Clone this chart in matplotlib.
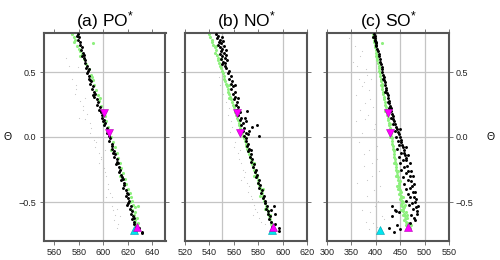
import matplotlib
matplotlib.use("Agg")
import matplotlib.pyplot as plt
import numpy as np

plt.rcParams['font.family'] = ['Liberation Sans', 'DejaVu Sans']
plt.rcParams['mathtext.fontset'] = 'custom'
plt.rcParams['mathtext.rm'] = 'Liberation Sans'
plt.rcParams['mathtext.default'] = 'regular'

titles = ["(a) PO$^{*}$", "(b) NO$^{*}$", "(c) SO$^{*}$"]
ylabel = "Θ"

# ---- data: (theta, value) pairs ----
a_grey = [(0.61,569.8),(0.55,571.5),(0.50,575.2),(0.45,574.0),(0.40,577.5),(0.37,578.0),(0.33,576.5),(0.28,581.0),
          (0.24,583.0),(0.21,583.4),(0.18,586.5),(0.14,585.0),(0.11,588.8),(0.07,590.0),(0.03,589.0),(-0.02,592.5),
          (-0.04,594.3),(-0.08,593.0),(-0.12,596.5),(-0.15,598.0),(-0.17,598.4),(-0.20,596.8),(-0.24,600.5),(-0.27,601.0),
          (-0.30,602.4),(-0.33,600.0),(-0.36,604.0),(-0.40,603.5),(-0.43,605.2),(-0.46,606.8),(-0.50,604.5),(-0.53,607.5),
          (-0.56,607.9),(-0.58,599.7),(-0.60,610.0),(-0.61,613.3),(-0.64,608.6),(-0.67,612.0),(-0.70,611.0),(-0.55,611.5),
          (-0.46,602.0),(0.30,585.0),(0.00,595.5),(-0.10,601.0),(0.15,580.0),(0.54,579.3)]
a_green = [(0.79,574.5),(0.77,575.8),(0.75,577.0),(0.73,576.2),(0.72,591.6),(0.70,578.5),(0.68,579.9),(0.66,580.6),
           (0.64,582.6),(0.60,584.5),(0.56,586.0),(0.52,587.9),(0.48,589.8),(0.44,591.4),(0.40,592.5),(0.36,593.7),
           (0.32,595.3),(0.28,596.8),(0.24,598.2),(0.20,599.0),(0.16,601.1),(0.12,602.4),(0.08,603.5),(0.04,604.9),
           (0.00,606.6),(-0.04,607.6),(-0.08,609.2),(-0.12,610.9),(-0.16,612.1),(-0.20,613.6),(-0.24,614.9),(-0.28,616.3),
           (-0.32,617.7),(-0.36,618.9),(-0.40,620.2),(-0.43,621.6),(-0.46,622.8),(-0.49,623.2),(-0.52,624.6),(-0.54,625.9),
           (-0.56,623.9),(-0.58,626.3),(-0.60,625.2),(-0.62,627.4),(-0.64,626.1),(-0.66,628.2),(-0.68,627.0),(-0.70,629.5),
           (-0.72,626.8),(-0.53,628.3),(0.46,591.0),(0.30,597.4),(-0.10,606.3),(-0.30,613.8),(-0.50,621.9),(0.10,600.8),
           (0.62,581.2),(-0.66,625.6)]
a_black = [(0.79,579.0),(0.77,580.2),(0.75,579.4),(0.73,581.3),(0.71,580.8),(0.69,582.5),(0.67,581.6),(0.65,583.4),
           (0.63,584.5),(0.61,583.8),(0.59,585.2),(0.57,584.9),(0.55,586.6),(0.53,585.7),(0.51,587.3),(0.49,586.8),
           (0.47,588.6),(0.45,588.0),(0.43,590.1),(0.41,589.4),(0.39,591.2),(0.37,590.6),(0.35,592.5),(0.33,593.4),
           (0.31,592.7),(0.29,594.8),(0.27,595.6),(0.25,594.9),(0.23,597.0),(0.21,596.2),(0.19,598.4),(0.17,599.3),
           (0.15,598.7),(0.13,600.6),(0.11,601.4),(0.09,600.9),(0.07,602.7),(0.05,603.5),(0.03,602.9),(0.01,604.8),
           (-0.01,605.6),(-0.03,604.9),(-0.05,606.8),(-0.07,607.5),(-0.09,606.9),(-0.11,608.9),(-0.13,609.6),(-0.15,608.8),
           (-0.17,610.9),(-0.19,611.6),(-0.21,610.8),(-0.23,612.9),(-0.25,613.5),(-0.27,612.7),(-0.29,614.6),(-0.31,615.4),
           (-0.33,614.8),(-0.35,616.7),(-0.37,617.3),(-0.39,616.5),(-0.41,618.6),(-0.43,619.2),(-0.45,618.4),(-0.47,620.5),
           (-0.49,621.3),(-0.51,620.6),(-0.53,622.4),(-0.55,621.7),(-0.57,623.5),(-0.59,622.8),(-0.61,624.3),(-0.63,623.9),
           (-0.65,625.4),(-0.67,624.8),(-0.69,626.6),(-0.71,627.9),(-0.73,631.5),(0.78,578.2),(0.52,587.9),(0.32,591.6),
           (0.12,599.5),(-0.12,607.6),(-0.32,616.1),(-0.52,619.8),(-0.70,629.0),(-0.74,632.0),(0.20,597.8),(-0.20,612.2),
           (0.44,589.2),(-0.44,620.0),(0.62,582.9),(-0.62,625.2)]

b_grey = [(0.50,546.5),(0.46,548.0),(0.40,549.0),(0.33,551.2),(0.27,553.5),(0.22,555.9),(0.17,555.0),(0.12,557.6),
          (0.08,558.6),(0.04,557.0),(0.00,560.5),(-0.04,561.3),(-0.08,560.0),(-0.12,563.2),(-0.17,564.0),(-0.20,566.0),
          (-0.25,567.5),(-0.27,569.5),(-0.31,568.0),(-0.35,571.0),(-0.38,572.2),(-0.42,571.5),(-0.45,574.0),(-0.48,574.9),
          (-0.52,576.5),(-0.55,577.7),(-0.58,579.0),(-0.62,580.4),(-0.65,582.0),(-0.67,585.8),(-0.60,576.0),(-0.50,572.5),
          (0.62,545.0),(0.30,550.0),(-0.10,565.0),(-0.33,565.5)]
b_green = [(0.79,540.0),(0.77,540.8),(0.75,541.9),(0.73,542.5),(0.71,543.3),(0.69,544.2),(0.67,545.0),(0.65,544.6),
           (0.63,546.0),(0.61,546.8),(0.59,547.3),(0.57,547.9),(0.55,548.9),(0.53,549.6),(0.51,550.2),(0.49,550.9),
           (0.47,551.6),(0.45,552.1),(0.43,553.0),(0.41,553.5),(0.39,554.2),(0.37,555.0),(0.35,555.5),(0.33,556.4),
           (0.31,557.0),(0.29,557.6),(0.27,558.5),(0.25,559.1),(0.23,559.8),(0.21,560.6),(0.19,561.1),(0.17,561.9),
           (0.15,562.6),(0.13,563.3),(0.11,564.0),(0.09,564.6),(0.07,565.4),(0.05,566.1),(0.03,566.8),(0.01,567.4),
           (-0.01,568.3),(-0.03,568.8),(-0.05,569.6),(-0.07,570.4),(-0.09,571.0),(-0.11,571.7),(-0.13,572.5),(-0.15,573.1),
           (-0.17,573.9),(-0.19,574.6),(-0.21,575.2),(-0.23,576.0),(-0.25,576.7),(-0.27,577.3),(-0.29,578.1),(-0.31,578.7),
           (-0.33,579.5),(-0.35,580.1),(-0.37,580.8),(-0.39,581.5),(-0.41,582.2),(-0.43,582.8),(-0.45,583.6),(-0.47,584.2),
           (-0.49,585.0),(-0.51,585.6),(-0.53,586.4),(-0.55,587.0),(-0.57,587.8),(-0.59,588.3),(-0.61,589.1),(-0.63,589.6),
           (-0.65,590.3),(-0.67,590.9),(-0.69,591.6),(0.60,549.5),(0.40,555.8),(0.20,562.5),(0.00,569.5),(-0.20,576.8),
           (-0.40,583.8),(-0.60,590.0),(0.70,545.5),(-0.45,581.5),(-0.55,585.2),(0.30,555.9),(-0.30,576.9)]
b_black = [(0.79,545.2),(0.78,547.0),(0.77,550.1),(0.76,546.3),(0.75,548.4),(0.74,551.5),(0.73,547.5),(0.72,549.6),
           (0.71,546.9),(0.70,552.3),(0.69,548.8),(0.68,550.7),(0.67,553.2),(0.66,549.5),(0.65,551.8),(0.64,548.3),
           (0.63,553.9),(0.62,550.6),(0.61,552.4),(0.60,549.9),(0.59,554.8),(0.58,551.3),(0.57,553.0),(0.56,550.2),
           (0.55,552.7),(0.53,554.0),(0.51,556.2),(0.49,555.1),(0.47,557.9),(0.45,556.4),(0.43,558.6),(0.41,557.3),
           (0.39,559.2),(0.37,558.0),(0.35,560.6),(0.33,559.4),(0.31,561.3),(0.29,560.2),(0.27,562.5),(0.25,561.6),
           (0.23,563.6),(0.21,562.8),(0.19,564.8),(0.17,563.7),(0.15,566.2),(0.13,565.0),(0.11,567.3),(0.09,566.1),
           (0.07,568.4),(0.05,567.6),(0.03,569.9),(0.01,568.7),(-0.01,570.4),(-0.03,569.6),(-0.05,571.5),(-0.07,570.8),
           (-0.09,572.6),(-0.11,571.9),(-0.13,573.8),(-0.15,573.0),(-0.17,575.1),(-0.19,574.3),(-0.21,576.4),(-0.23,575.6),
           (-0.25,577.8),(-0.27,577.0),(-0.29,579.2),(-0.31,578.3),(-0.33,580.5),(-0.35,579.7),(-0.37,581.8),(-0.39,581.0),
           (-0.41,583.2),(-0.43,582.4),(-0.45,584.6),(-0.47,583.8),(-0.49,585.9),(-0.51,585.2),(-0.53,587.1),(-0.55,586.5),
           (-0.57,588.2),(-0.59,587.8),(-0.61,589.3),(-0.63,589.0),(-0.65,590.2),(-0.67,593.8),(-0.69,591.5),(-0.72,596.8),
           (0.20,570.5),(0.15,568.9),(0.08,575.0),(0.09,579.0),(0.01,580.4),(0.05,572.5),(0.12,570.2),(-0.53,592.6),
           (-0.59,594.0),(-0.56,590.5),(0.30,563.5),(0.40,561.0),(-0.10,574.5),(-0.70,597.0),(0.02,571.8)]

c_grey = [(0.76,344.5),(0.74,349.0),(0.70,358.0),(0.66,372.0),(0.62,368.0),(0.58,352.5),(0.55,361.6),(0.52,380.0),
          (0.48,382.0),(0.45,366.0),(0.42,376.0),(0.39,371.8),(0.36,386.0),(0.32,360.0),(0.29,389.0),(0.26,378.5),
          (0.23,395.0),(0.21,368.4),(0.17,384.0),(0.14,378.7),(0.10,398.0),(0.06,395.7),(0.03,372.0),(0.00,388.5),
          (-0.04,365.0),(-0.07,403.0),(-0.10,385.5),(-0.13,376.0),(-0.17,402.6),(-0.20,391.5),(-0.22,375.3),(-0.26,407.0),
          (-0.30,392.3),(-0.33,381.0),(-0.38,409.4),(-0.41,396.0),(-0.45,382.0),(-0.49,404.0),(-0.53,399.0),(-0.56,371.0),
          (-0.58,389.0),(-0.61,412.0),(-0.63,416.2),(-0.66,395.0),(-0.69,402.6),(-0.71,386.0),(0.45,390.0),(0.12,360.0),
          (-0.35,362.0),(-0.65,380.0)]
c_green = [(0.79,393.7),(0.77,394.6),(0.75,396.5),(0.73,396.0),(0.71,397.8),(0.69,398.4),(0.67,399.4),(0.65,400.0),
           (0.63,401.5),(0.61,401.9),(0.59,403.2),(0.57,403.9),(0.55,405.8),(0.53,406.1),(0.51,407.3),(0.49,407.9),
           (0.47,409.2),(0.45,409.8),(0.43,410.6),(0.41,412.0),(0.39,412.7),(0.37,413.5),(0.35,414.6),(0.33,415.3),
           (0.31,416.4),(0.29,417.4),(0.27,418.2),(0.25,419.3),(0.23,420.2),(0.21,421.4),(0.19,422.5),(0.17,423.3),
           (0.15,424.6),(0.13,425.2),(0.11,426.5),(0.09,427.4),(0.07,428.3),(0.05,429.2),(0.03,430.5),(0.01,431.3),
           (-0.01,432.4),(-0.03,433.3),(-0.05,434.0),(-0.07,434.9),(-0.09,435.5),(-0.11,436.6),(-0.13,437.5),(-0.15,437.9),
           (-0.17,439.2),(-0.19,439.8),(-0.21,440.5),(-0.23,441.6),(-0.25,442.3),(-0.27,443.4),(-0.29,443.9),(-0.31,445.0),
           (-0.33,445.6),(-0.35,446.8),(-0.37,447.4),(-0.39,448.5),(-0.41,449.2),(-0.43,450.0),(-0.45,451.3),(-0.47,451.8),
           (-0.49,452.9),(-0.51,453.6),(-0.53,454.7),(-0.55,455.5),(-0.57,456.4),(-0.59,457.8),(-0.61,459.0),(-0.63,460.5),
           (-0.65,462.0),(-0.67,464.2),(-0.69,466.5),(-0.40,445.0),(-0.44,447.5),(-0.48,449.0),(-0.52,451.0),(-0.56,452.5),
           (-0.60,455.0),(-0.64,458.0),(-0.68,461.5),(-0.42,452.5),(-0.46,454.8),(-0.50,456.5),(-0.54,458.5),(-0.58,461.0),
           (-0.62,463.5),(-0.66,466.5),(-0.70,470.5),(-0.68,472.0),(-0.60,464.0),(-0.52,460.0),(-0.38,444.0),(-0.34,449.0),
           (-0.30,442.0),(-0.26,445.5),(0.72,412.8),(0.62,399.5),(0.40,409.8),(0.20,419.5),(0.00,429.5),(-0.20,437.5),
           (-0.10,438.0),(0.10,428.6)]
c_black = [(0.79,396.0),(0.78,397.5),(0.77,395.2),(0.76,398.3),(0.75,399.0),(0.74,397.8),(0.73,400.2),(0.72,399.4),
           (0.71,401.0),(0.70,400.5),(0.68,402.3),(0.66,403.8),(0.64,405.9),(0.62,406.8),(0.60,408.5),(0.58,409.6),
           (0.56,410.4),(0.54,411.9),(0.52,412.8),(0.50,413.6),(0.48,415.2),(0.46,416.0),(0.44,417.5),(0.42,418.8),
           (0.40,419.4),(0.38,420.9),(0.36,421.6),(0.34,423.2),(0.32,424.0),(0.30,425.6),(0.28,426.5),(0.26,428.0),
           (0.24,429.4),(0.22,430.5),(0.20,432.1),(0.18,433.0),(0.16,434.9),(0.14,436.2),(0.12,437.7),(0.10,439.5),
           (0.08,441.2),(0.06,443.6),(0.04,445.0),(0.02,446.7),(0.00,448.9),(-0.02,451.0),(-0.04,452.6),(-0.06,454.5),
           (-0.08,455.9),(-0.10,457.1),(-0.12,458.6),(-0.14,459.4),(-0.16,461.0),(-0.18,462.3),(-0.22,464.1),(-0.26,466.5),
           (-0.30,470.0),(-0.34,472.5),(-0.38,474.1),(-0.42,475.8),(-0.46,477.4),(-0.50,479.6),(-0.54,482.7),(-0.57,484.9),
           (-0.59,483.5),(0.45,414.8),(0.35,419.8),(0.27,424.2),(0.22,427.6),(0.15,431.5),(0.10,435.0),(0.05,439.5),
           (0.00,441.5),(-0.03,445.0),(-0.06,448.3),(-0.09,443.2),(-0.12,451.5),(-0.15,446.8),(-0.18,455.5),(-0.20,449.5),
           (-0.23,458.0),(-0.25,452.0),(-0.28,462.5),(-0.31,455.0),(-0.33,466.0),(-0.36,458.8),(-0.39,470.3),(-0.40,461.5),
           (-0.42,479.5),(-0.44,465.0),(-0.46,470.8),(-0.48,482.0),(-0.49,462.0),(-0.51,474.5),(-0.52,468.0),(-0.53,485.5),
           (-0.55,476.0),(-0.56,438.5),(-0.58,447.0),(-0.60,472.0),(-0.61,434.0),(-0.62,478.5),(-0.64,481.0),(-0.53,433.5),
           (-0.57,442.0),(-0.68,443.5),(-0.70,426.5),(-0.73,436.7),(-0.71,450.0),(-0.66,470.0),(-0.36,478.0),(-0.30,476.5),
           (-0.26,473.0),(-0.20,470.5),(-0.14,466.0),(-0.08,461.5),(0.06,449.0)]

# markers: magenta down-triangles (2), magenta up-triangle, cyan up-triangle
a_mdown = [(0.187,600.5),(0.028,604.4)]
a_mup = [(-0.69,627.8)]
a_cyan = [(-0.715,625.0)]
b_mdown = [(0.187,562.7),(0.028,565.1)]
b_mup = [(-0.69,592.1)]
b_cyan = [(-0.715,591.0)]
c_mdown = [(0.187,425.0),(0.028,428.5)]
c_mup = [(-0.69,466.0)]
c_cyan = [(-0.715,409.4)]

panels = [
    dict(grey=a_grey, green=a_green, black=a_black, mdown=a_mdown, mup=a_mup, cyan=a_cyan,
         xlim=(551, 651), xticks=[560, 580, 600, 620, 640], xgrid=[600]),
    dict(grey=b_grey, green=b_green, black=b_black, mdown=b_mdown, mup=b_mup, cyan=b_cyan,
         xlim=(520, 620), xticks=[520, 540, 560, 580, 600, 620], xgrid=[550, 600]),
    dict(grey=c_grey, green=c_green, black=c_black, mdown=c_mdown, mup=c_mup, cyan=c_cyan,
         xlim=(300, 550), xticks=[300, 350, 400, 450, 500, 550], xgrid=[350, 400, 450, 500]),
]
yticks = [-0.5, 0.0, 0.5]

fig = plt.figure(figsize=(5.0, 2.6), dpi=100)
lefts = [43.5, 185.0, 327.0]
W, H = 500.0, 260.0
for i, (p, L) in enumerate(zip(panels, lefts)):
    ax = fig.add_axes([L / W, 1 - 241 / H, 122 / W, 208 / H])
    ax.set_xlim(*p['xlim'])
    ax.set_ylim(-0.8, 0.8)
    for g in p['xgrid']:
        ax.axvline(g, color='#c4c4c4', lw=0.9, zorder=0)
    for g in yticks:
        ax.axhline(g, color='#c4c4c4', lw=0.9, zorder=0)

    def xy(lst):
        arr = np.array(lst)
        return arr[:, 1], arr[:, 0]

    x, y = xy(p['grey']);  ax.scatter(x, y, s=0.7, c='#c6c6c6', lw=0, zorder=1)
    x, y = xy(p['green']); ax.scatter(x, y, s=5.0, c='#8ef07e', lw=0, zorder=2)
    x, y = xy(p['black']); ax.scatter(x, y, s=4.5, c='#000000', lw=0, zorder=3)
    x, y = xy(p['mdown']); ax.plot(x, y, 'v', ms=5.8, color='#ff00ff', mec='#b000b0', mew=0.4, ls='none', zorder=4)
    x, y = xy(p['cyan']);  ax.plot(x, y, '^', ms=5.8, color='#00e5ee', mec='#00a0b0', mew=0.4, ls='none', zorder=4)
    x, y = xy(p['mup']);   ax.plot(x, y, '^', ms=5.8, color='#ff00ff', mec='#b000b0', mew=0.4, ls='none', zorder=5)

    ax.set_xticks(p['xticks'])
    ax.set_yticks(yticks)
    ax.tick_params(axis='both', which='both', direction='out', length=3, width=0.7,
                   color='#777777', labelsize=6.5, labelcolor='#222222', pad=2,
                   top=True, right=True, bottom=True, left=True,
                   labeltop=False, labelbottom=True,
                   labelleft=(i == 0), labelright=(i == 2))
    ax.set_yticklabels(['\u22120.5', '0.0', '0.5'])
    for s in ax.spines.values():
        s.set_color('#555555')
        s.set_linewidth(1.5)
    ax.set_title(titles[i], fontsize=12.5, pad=5)

fig.text(8 / W, 1 - 137 / H, ylabel, fontsize=7.5, ha='center', va='center')
fig.text(491 / W, 1 - 137 / H, ylabel, fontsize=7.5, ha='center', va='center')

fig.savefig('out.png', dpi=100)
